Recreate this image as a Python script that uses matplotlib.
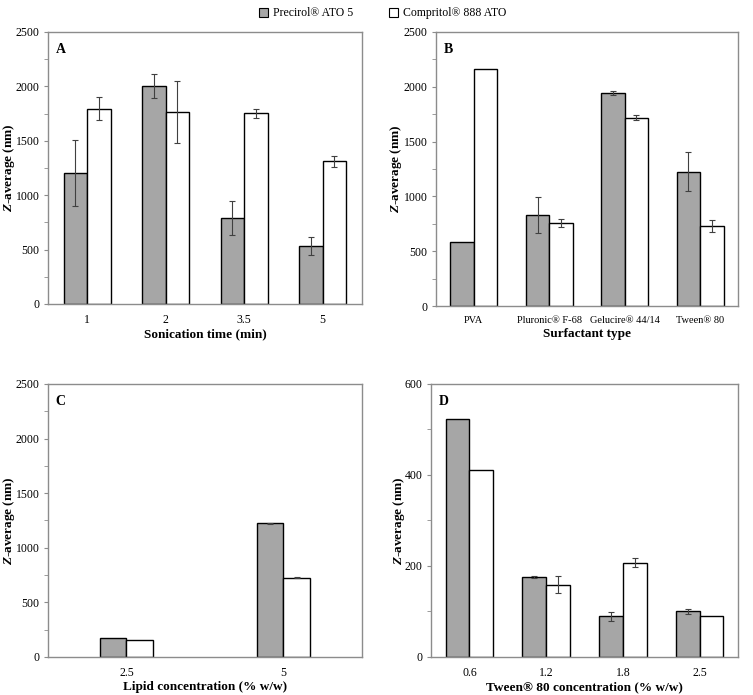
import matplotlib
matplotlib.use("Agg")
import matplotlib.pyplot as plt
import numpy as np
from matplotlib.patches import Patch

plt.rcParams['font.family'] = ['Liberation Serif', 'DejaVu Serif']
plt.rcParams['mathtext.fontset'] = 'custom'
plt.rcParams['mathtext.rm'] = 'Liberation Serif:bold'
plt.rcParams['mathtext.it'] = 'Liberation Serif:italic:bold'
plt.rcParams['mathtext.bf'] = 'Liberation Serif:bold'

series = ["Precirol® ATO 5", "Compritol® 888 ATO"]

# Panel A
a_cats = ["1", "2", "3.5", "5"]
a_prec = [1205, 2000, 786, 532]
a_prec_err = [305, 110, 156, 83]
a_comp = [1793, 1762, 1753, 1310]
a_comp_err = [105, 285, 42, 49]

# Panel B
b_cats = ["PVA", "Pluronic® F-68", "Gelucire® 44/14", "Tween® 80"]
b_prec = [580, 829, 1944, 1227]
b_prec_err = [0, 167, 18, 180]
b_comp = [2160, 759, 1719, 732]
b_comp_err = [0, 35, 20, 56]

# Panel C
c_cats = ["2.5", "5"]
c_prec = [174, 1226]
c_prec_err = [0, 5]
c_comp = [156, 727]
c_comp_err = [0, 5]

# Panel D
d_cats = ["0.6", "1.2", "1.8", "2.5"]
d_prec = [523, 175, 89, 100]
d_prec_err = [0, 2, 9.5, 5]
d_comp = [411, 159, 207, 89]
d_comp_err = [0, 19, 10, 0]

GRAY = '#a6a6a6'
SPINE = '#8c8c8c'

fig = plt.figure(figsize=(7.53, 6.95), dpi=100)

def panel(rect, cats, p, pe, c, ce, width, ymax, major, minor, letter, xlabel, ylx, xts=8.5):
    ax = fig.add_axes(rect)
    x = np.arange(len(cats))
    ekw = dict(ecolor='#404040', elinewidth=0.8, capsize=2, capthick=0.8)
    pe_ = [e if e > 0 else np.nan for e in pe]
    ce_ = [e if e > 0 else np.nan for e in ce]
    ax.bar(x - width/2, p, width, color=GRAY, edgecolor='black', linewidth=1.0,
           yerr=pe_, error_kw=ekw, zorder=2)
    ax.bar(x + width/2, c, width, color='white', edgecolor='black', linewidth=1.0,
           yerr=ce_, error_kw=ekw, zorder=2)
    ax.set_xlim(-0.5, len(cats) - 0.5)
    ax.set_ylim(0, ymax)
    ax.set_yticks(np.arange(0, ymax + 1, major))
    ax.set_yticks(np.arange(0, ymax + 1, minor), minor=True)
    ax.set_xticks(x)
    ax.set_xticklabels(cats, fontsize=xts)
    ax.tick_params(axis='x', length=0, pad=7)
    ax.tick_params(axis='y', which='major', length=3, color=SPINE, labelsize=8.5, pad=3)
    ax.tick_params(axis='y', which='minor', length=3, color=SPINE)
    for s in ax.spines.values():
        s.set_color(SPINE)
        s.set_linewidth(1.0)
    ax.set_xlabel(xlabel, fontsize=9.5, fontweight='bold', labelpad=2)
    ax.set_ylabel(r'$\mathit{Z}$' + '-average (nm)', fontsize=9.5, fontweight='bold')
    ax.yaxis.set_label_coords(ylx, 0.5)
    ax.text(0.025, 0.96, letter, transform=ax.transAxes, fontsize=10,
            fontweight='bold', va='top', ha='left')
    return ax

panel([0.0637, 0.5626, 0.417, 0.3914], a_cats, a_prec, a_prec_err, a_comp, a_comp_err,
      0.30, 2500, 500, 250, 'A', 'Sonication time (min)', -0.10)
panel([0.579, 0.5597, 0.401, 0.3943], b_cats, b_prec, b_prec_err, b_comp, b_comp_err,
      0.31, 2500, 500, 250, 'B', 'Surfactant type', -0.105, xts=7.5)
panel([0.0637, 0.0547, 0.417, 0.3928], c_cats, c_prec, c_prec_err, c_comp, c_comp_err,
      0.17, 2500, 500, 250, 'C', 'Lipid concentration (% w/w)', -0.10)
panel([0.5724, 0.0547, 0.4077, 0.3928], d_cats, d_prec, d_prec_err, d_comp, d_comp_err,
      0.31, 600, 200, 100, 'D', 'Tween® 80 concentration (% w/w)', -0.078)

handles = [Patch(facecolor=GRAY, edgecolor='black', linewidth=0.8),
           Patch(facecolor='white', edgecolor='black', linewidth=0.8)]
fig.legend(handles, series, loc='upper center', bbox_to_anchor=(0.508, 1.005), ncol=2,
           frameon=False, fontsize=8.5, handlelength=0.8, handleheight=0.8,
           handletextpad=0.4, columnspacing=3.0)

fig.savefig('out.png', dpi=100)
